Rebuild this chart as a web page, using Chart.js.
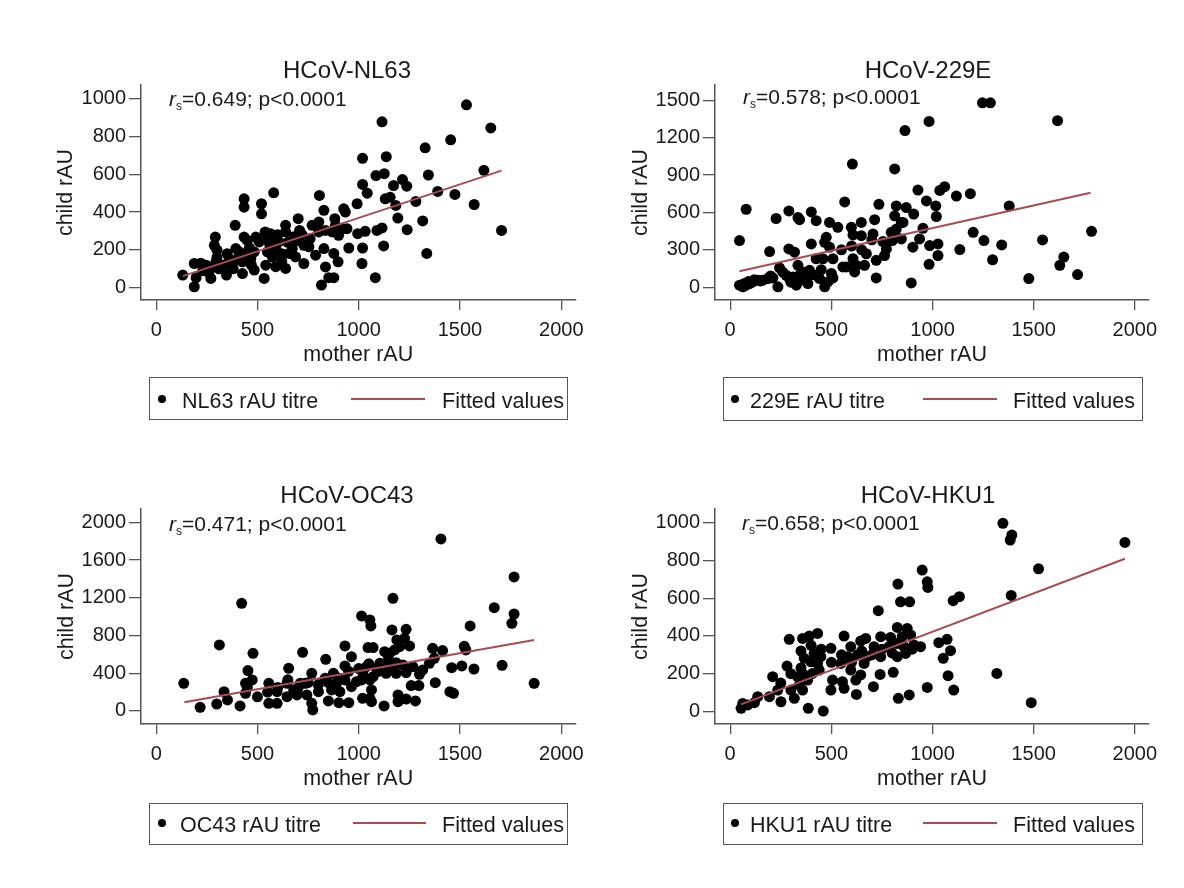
<!DOCTYPE html>
<html>
<head>
    <title>HCoV mother vs child rAU</title>
    <style type="text/css">
        body {
            margin: 0;
            background: #fff;
            font-family: 'Liberation Sans', Arial, sans-serif;
            color: #1a1a1a;
        }

        #page {
            position: relative;
            width: 1184px;
            height: 888px;
            overflow: hidden;
        }

        canvas {
            position: absolute;
        }

        .txt {
            position: absolute;
            line-height: 1;
            white-space: nowrap;
        }

        .title {
            font-size: 24px;
            transform: translateX(-50%);
        }

        .note {
            font-size: 21px;
        }

        .note sub {
            font-size: 12px;
            vertical-align: -4px;
            line-height: 0;
        }

        .legend {
            position: absolute;
            box-sizing: border-box;
            border: 1.5px solid #555;
        }

        .leg-text {
            font-size: 21.5px;
        }

        .dot {
            position: absolute;
            width: 8px;
            height: 8px;
            border-radius: 50%;
            background: #000;
        }

        .fitline {
            position: absolute;
            height: 2px;
            background: #a94c52;
        }
    </style>
</head>

<body>
    <div id="page">
        <canvas id="nl63" width="592" height="310" style="left:0px;top:70px"></canvas>
        <canvas id="e229" width="592" height="310" style="left:592px;top:70px"></canvas>
        <canvas id="oc43" width="592" height="310" style="left:0px;top:494px"></canvas>
        <canvas id="hku1" width="592" height="310" style="left:592px;top:494px"></canvas>

        <div class="txt title" style="left:347px;top:58px">HCoV-NL63</div>
        <div class="txt title" style="left:928px;top:58px">HCoV-229E</div>
        <div class="txt title" style="left:347px;top:483px">HCoV-OC43</div>
        <div class="txt title" style="left:928px;top:483px">HCoV-HKU1</div>

        <div class="txt note" style="left:169px;top:88px"><i>r</i><sub>s</sub>=0.649; p&lt;0.0001</div>
        <div class="txt note" style="left:743px;top:86px"><i>r</i><sub>s</sub>=0.578; p&lt;0.0001</div>
        <div class="txt note" style="left:169px;top:513px"><i>r</i><sub>s</sub>=0.471; p&lt;0.0001</div>
        <div class="txt note" style="left:742px;top:512px"><i>r</i><sub>s</sub>=0.658; p&lt;0.0001</div>

        <!-- legends -->
        <div class="legend" style="left:149px;top:377px;width:419px;height:43px"></div>
        <div class="dot" style="left:158px;top:395px"></div>
        <div class="txt leg-text" style="left:182px;top:391px">NL63 rAU titre</div>
        <div class="fitline" style="left:351px;top:398px;width:74px"></div>
        <div class="txt leg-text" style="left:442px;top:391px">Fitted values</div>

        <div class="legend" style="left:723px;top:377px;width:420px;height:44px"></div>
        <div class="dot" style="left:731px;top:395px"></div>
        <div class="txt leg-text" style="left:750px;top:391px">229E rAU titre</div>
        <div class="fitline" style="left:923px;top:398px;width:74px"></div>
        <div class="txt leg-text" style="left:1013px;top:391px">Fitted values</div>

        <div class="legend" style="left:149px;top:803px;width:419px;height:42px"></div>
        <div class="dot" style="left:158px;top:819px"></div>
        <div class="txt leg-text" style="left:180px;top:815px">OC43 rAU titre</div>
        <div class="fitline" style="left:353px;top:822px;width:73px"></div>
        <div class="txt leg-text" style="left:442px;top:815px">Fitted values</div>

        <div class="legend" style="left:723px;top:803px;width:420px;height:42px"></div>
        <div class="dot" style="left:731px;top:819px"></div>
        <div class="txt leg-text" style="left:750px;top:815px">HKU1 rAU titre</div>
        <div class="fitline" style="left:923px;top:822px;width:74px"></div>
        <div class="txt leg-text" style="left:1013px;top:815px">Fitted values</div>
    </div>

    <script src="https://cdn.jsdelivr.net/npm/chart.js@4.4.0/dist/chart.umd.min.js"></script>
    <script>
        // ticks
        var xTicks = [0, 500, 1000, 1500, 2000];
        var nl63YTicks = [0, 200, 400, 600, 800, 1000];
        var e229YTicks = [0, 300, 600, 900, 1200, 1500];
        var oc43YTicks = [0, 400, 800, 1200, 1600, 2000];
        var hku1YTicks = [0, 200, 400, 600, 800, 1000];

        // [mother rAU, child rAU]
        var nl63Titre = [
            [1532, 967], [1652, 845], [1115, 877], [1454, 782], [1328, 740], [1019, 684], [1136, 693],
            [1618, 621], [1344, 596], [1085, 593], [1126, 603], [1019, 546], [1042, 500], [1172, 540],
            [1216, 572], [1237, 537], [1390, 509], [1475, 493], [1570, 440], [1705, 303], [1282, 456],
            [1131, 470], [1155, 479], [1183, 435], [992, 444], [1316, 353], [1193, 368], [1239, 307],
            [1336, 181], [1082, 53], [1123, 221], [1019, 210], [1016, 128], [951, 210], [995, 286],
            [1032, 298], [1090, 303], [1115, 316], [901, 295], [921, 312], [942, 312], [882, 365],
            [885, 330], [926, 417], [934, 400], [828, 409], [806, 488], [580, 502], [434, 470],
            [434, 426], [520, 444], [520, 391], [390, 330], [434, 268], [492, 268], [292, 268],
            [287, 224], [538, 295], [565, 286], [639, 330], [639, 295], [701, 365], [708, 303],
            [770, 330], [803, 347], [803, 295], [836, 303], [869, 295], [901, 277], [729, 224],
            [754, 216], [787, 172], [828, 207], [877, 181], [898, 137], [836, 110], [816, 14],
            [852, 53], [877, 53], [729, 128], [672, 207], [656, 181], [688, 163], [639, 102],
            [590, 111], [606, 242], [574, 242], [590, 207], [549, 189], [574, 163], [541, 119],
            [533, 49], [484, 189], [484, 93], [467, 154], [443, 181], [426, 137], [426, 75],
            [393, 207], [402, 154], [377, 128], [360, 154], [347, 67], [328, 119], [295, 137],
            [279, 110], [270, 49], [254, 102], [246, 119], [197, 53], [188, 128], [131, 67],
            [188, 5], [238, 110], [508, 242], [528, 268], [560, 230], [620, 180], [700, 250],
            [460, 210], [410, 190], [360, 120], [310, 100], [230, 90], [620, 140], [760, 260],
            [300, 160], [350, 180], [380, 100], [450, 250], [470, 120], [550, 260], [600, 280],
            [650, 240], [680, 270], [720, 280], [300, 200], [260, 80], [220, 130]
        ];
        var nl63Fit = [[131, 61], [1705, 619]];

        var e229Titre = [
            [1247, 1479], [1286, 1479], [983, 1330], [1618, 1336], [864, 1256], [604, 988], [813, 949],
            [928, 779], [1036, 776], [1060, 806], [1118, 731], [1187, 750], [1379, 652], [1786, 448],
            [970, 692], [1016, 652], [1019, 567], [907, 586], [870, 639], [821, 652], [813, 572],
            [846, 519], [821, 466], [854, 519], [735, 665], [714, 541], [566, 684], [648, 519],
            [599, 480], [607, 419], [648, 413], [706, 427], [755, 366], [772, 307], [763, 254],
            [722, 215], [664, 175], [615, 122], [607, 228], [532, 480], [491, 519], [425, 533],
            [401, 604], [290, 612], [335, 559], [343, 541], [227, 551], [79, 625], [46, 374],
            [195, 286], [290, 307], [318, 281], [401, 347], [467, 360], [475, 400], [491, 321],
            [458, 228], [425, 228], [508, 228], [557, 162], [574, 162], [623, 175], [673, 268],
            [722, 74], [895, 34], [796, 440], [801, 374], [821, 400], [846, 387], [936, 387],
            [903, 321], [953, 472], [986, 334], [1027, 347], [1027, 254], [983, 183], [1135, 302],
            [1201, 440], [1254, 374], [1297, 220], [1342, 339], [1476, 69], [1544, 379], [1629, 175],
            [1649, 241], [1717, 101], [46, 16], [63, 3], [79, 16], [96, 29], [112, 42],
            [137, 56], [162, 56], [186, 69], [211, 74], [236, 3], [244, 154], [277, 95],
            [294, 69], [310, 82], [327, 16], [335, 175], [343, 95], [359, 122], [376, 69],
            [384, 29], [392, 135], [425, 95], [442, 69], [467, 3], [483, 42], [508, 74],
            [70, 30], [90, 45], [120, 60], [150, 50], [200, 90], [260, 120], [300, 40],
            [350, 60], [400, 100], [450, 140], [500, 110], [550, 300], [600, 330], [650, 300],
            [700, 380]
        ];
        var e229Fit = [[46, 127], [1781, 758]];

        var oc43Titre = [
            [1406, 1824], [1767, 1421], [1169, 1194], [422, 1141], [1669, 1095], [1767, 1028], [1756, 929],
            [1014, 1007], [1055, 965], [1060, 901], [1550, 901], [1164, 859], [1234, 866], [1188, 753],
            [1226, 770], [312, 700], [478, 611], [723, 622], [837, 548], [932, 689], [964, 576],
            [932, 477], [1046, 672], [1071, 672], [1128, 629], [1153, 611], [1177, 647], [1202, 682],
            [1251, 689], [1145, 541], [1185, 512], [1218, 488], [1267, 470], [1169, 435], [1136, 399],
            [1104, 505], [1087, 452], [1038, 470], [1022, 382], [1071, 364], [1185, 399], [1234, 406],
            [1365, 664], [1414, 640], [1373, 558], [1349, 505], [1316, 435], [1300, 389], [1521, 686],
            [1529, 647], [1509, 477], [1459, 459], [1569, 445], [1708, 484], [1866, 293], [1378, 300],
            [1450, 205], [1468, 187], [1259, 269], [1297, 269], [1280, 106], [1194, 170], [1234, 127],
            [1194, 99], [1125, 53], [1019, 134], [1055, 134], [1063, 99], [1063, 223], [1014, 329],
            [1055, 329], [951, 88], [902, 88], [850, 106], [866, 223], [891, 293], [907, 205],
            [932, 329], [964, 258], [989, 311], [768, 399], [801, 205], [768, 81], [773, 11],
            [744, 170], [736, 293], [711, 293], [654, 452], [646, 293], [679, 223], [695, 170],
            [646, 152], [597, 205], [556, 293], [556, 81], [597, 81], [453, 428], [474, 329],
            [441, 293], [441, 187], [335, 205], [352, 117], [299, 74], [414, 53], [217, 39],
            [136, 293], [834, 346], [875, 399], [600, 250], [650, 330], [700, 240], [750, 300],
            [800, 280], [850, 300], [900, 350], [950, 420], [1000, 450], [1050, 500], [1100, 420],
            [1150, 460], [500, 150], [450, 250], [550, 200]
        ];
        var oc43Fit = [[139, 92], [1866, 753]];

        var hku1Titre = [
            [1348, 997], [1392, 935], [1384, 908], [1951, 896], [1524, 756], [949, 749], [974, 687],
            [977, 657], [829, 675], [842, 581], [887, 581], [1389, 615], [1102, 587], [1133, 608],
            [732, 534], [826, 445], [875, 440], [292, 382], [358, 387], [391, 399], [432, 413],
            [563, 399], [670, 387], [645, 373], [744, 396], [793, 392], [850, 396], [892, 405],
            [1031, 364], [1072, 382], [1089, 322], [1053, 281], [1077, 189], [1105, 113], [1318, 201],
            [1488, 46], [974, 127], [885, 87], [831, 69], [708, 131], [624, 90], [806, 207],
            [741, 196], [826, 360], [859, 343], [908, 352], [941, 343], [867, 307], [826, 290],
            [785, 343], [744, 290], [711, 343], [678, 290], [629, 299], [596, 343], [580, 290],
            [547, 254], [498, 334], [448, 290], [415, 307], [399, 263], [432, 254], [440, 219],
            [407, 201], [366, 281], [366, 193], [333, 184], [342, 140], [383, 166], [300, 113],
            [281, 240], [210, 184], [235, 113], [194, 78], [136, 78], [120, 46], [62, 42],
            [54, 16], [87, 34], [251, 51], [317, 69], [358, 113], [386, 16], [460, 2],
            [498, 113], [506, 166], [555, 157], [563, 122], [621, 166], [596, 219], [662, 254],
            [645, 193], [250, 150], [300, 200], [350, 230], [450, 330], [500, 260], [550, 300],
            [600, 260], [650, 320], [700, 300], [750, 330], [800, 310], [900, 330], [400, 350],
            [350, 320]
        ];
        var hku1Fit = [[54, 37], [1951, 809]];

        var fontFamily = "'Liberation Sans', Arial, sans-serif";
        var axisColor = '#555';
        var textColor = '#1a1a1a';
        var fitColor = '#a94c52';

        function toXY(pairs) {
            return pairs.map(p => ({ x: p[0], y: p[1] }));
        }

        function makePanel(id, titre, fit, yTicks, yMin, yMax, geo) {
            var ctx = document.getElementById(id).getContext('2d');
            new Chart(ctx, {
                type: 'scatter',
                data: {
                    datasets: [
                        {
                            label: 'Fitted values',
                            data: toXY(fit),
                            showLine: true,
                            borderColor: fitColor,
                            borderWidth: 2,
                            pointRadius: 0,
                            order: 0
                        },
                        {
                            label: 'rAU titre',
                            data: toXY(titre),
                            pointRadius: 5.5,
                            pointBackgroundColor: '#000',
                            pointBorderWidth: 0,
                            order: 1
                        }
                    ]
                },
                options: {
                    responsive: false,
                    animation: false,
                    events: [],
                    layout: { padding: { left: 0, top: geo.top, right: geo.right, bottom: 0 } },
                    plugins: {
                        legend: { display: false },
                        tooltip: { enabled: false }
                    },
                    scales: {
                        x: {
                            type: 'linear',
                            min: -75,
                            max: 2070,
                            afterBuildTicks: s => { s.ticks = xTicks.map(v => ({ value: v })); },
                            afterFit: s => { s.height = 80; },
                            grid: { drawOnChartArea: false, tickLength: 10, color: axisColor, lineWidth: 1.3 },
                            border: { color: axisColor, width: 1.5 },
                            ticks: {
                                padding: 8, color: textColor, maxRotation: 0, autoSkip: false,
                                font: { size: 20, family: fontFamily },
                                callback: v => String(v)
                            },
                            title: {
                                display: true, text: 'mother rAU', color: textColor,
                                font: { size: 21.5, family: fontFamily },
                                padding: { top: 0, bottom: 12 }
                            }
                        },
                        y: {
                            type: 'linear',
                            min: yMin,
                            max: yMax,
                            afterBuildTicks: s => { s.ticks = yTicks.map(v => ({ value: v })); },
                            afterFit: s => { s.width = geo.yWidth; },
                            grid: { drawOnChartArea: false, tickLength: 12, color: axisColor, lineWidth: 1.3 },
                            border: { color: axisColor, width: 1.5 },
                            ticks: {
                                padding: 3, color: textColor, autoSkip: false,
                                font: { size: 20, family: fontFamily },
                                callback: v => String(v)
                            },
                            title: {
                                display: true, text: 'child rAU', color: textColor,
                                font: { size: 21.5, family: fontFamily },
                                padding: { top: geo.yTitle, bottom: 0 }
                            }
                        }
                    }
                }
            });
        }

        makePanel('nl63', nl63Titre, nl63Fit, nl63YTicks, -65, 1072, { top: 14, right: 15, yWidth: 141, yTitle: 53 });
        makePanel('e229', e229Titre, e229Fit, e229YTicks, -103, 1622, { top: 13, right: 35, yWidth: 123, yTitle: 36 });
        makePanel('oc43', oc43Titre, oc43Fit, oc43YTicks, -138, 2141, { top: 15, right: 15, yWidth: 141, yTitle: 54 });
        makePanel('hku1', hku1Titre, hku1Fit, hku1YTicks, -67, 1073, { top: 15, right: 35, yWidth: 123, yTitle: 36 });
    </script>
</body>

</html>
